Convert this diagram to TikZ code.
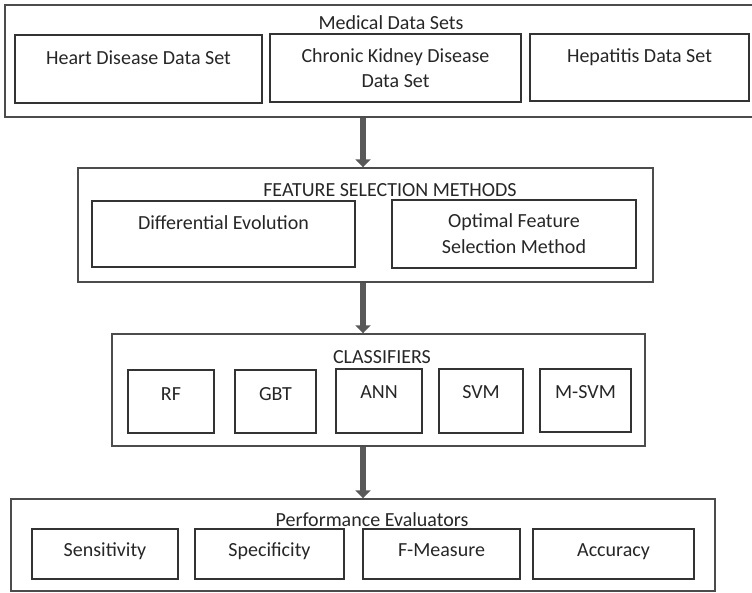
\documentclass[tikz,border=0pt]{standalone}
\usepackage{fontspec}
\setmainfont{Carlito}
\usetikzlibrary{arrows.meta}

\begin{document}
\begin{tikzpicture}[x=1pt, y=-1pt, >=Stealth,
 group box/.style 2 args={draw=black!70, line width=1.4pt, minimum width=#1pt,
   minimum height=#2pt, inner sep=0pt},
 item box/.style 2 args={draw=black!80, line width=1.4pt, minimum width=#1pt,
   minimum height=#2pt, inner sep=0pt, align=center, text=black!85,
   font=\fontsize{20}{25}\selectfont},
 top text/.style 2 args={text height=#1pt, text depth=#2pt},
 group title/.style={text=black!85, inner sep=0pt, font=\fontsize{20}{24}\selectfont},
 big arrow/.style={draw=black!65, line width=6pt, -{Triangle[length=8pt,width=15pt]}}]
    % moldura: mesmo tamanho da figura original
    \useasboundingbox (0,0) rectangle (752,593);

    % bloco 1: bases de dados
    \node[group box={751}{112}] (data) at (380.5,61) {};
    \node[group title] (datatitle) at (391,23) {Medical Data Sets};
    \node[item box={247}{68}, top text={29.5}{38.5}] (heart) at (138.5,69) {Heart Disease Data Set};
    \node[item box={251}{68}] (kidney) at (395.5,68) {Chronic Kidney Disease\\Data Set};
    \node[item box={219}{67}, top text={28.5}{38.5}] (hepatitis) at (639.5,67.5) {Hepatitis Data Set};

    % bloco 2: selecao de atributos
    \node[group box={575}{114}] (selection) at (365.5,225) {};
    \node[group title] (selectiontitle) at (390,190) {FEATURE SELECTION METHODS};
    \node[item box={263}{66}, top text={28.5}{37.5}] (diffevo) at (223.5,234) {Differential Evolution};
    \node[item box={244}{68}, font=\fontsize{20}{26}\selectfont] (optimal) at (514,234) {Optimal Feature\\Selection Method};

    % bloco 3: classificadores
    \node[group box={533}{112}] (classifiers) at (378.5,390) {};
    \node[group title] (classifierstitle) at (382,357) {CLASSIFIERS};
    \node[item box={86}{63}, top text={30}{33}] (rf) at (171,401.5) {RF};
    \node[item box={81}{63}, top text={30}{33}] (gbt) at (275.5,401.5) {GBT};
    \node[item box={86}{64}, top text={30}{34}] (ann) at (379,401) {ANN};
    \node[item box={84}{64}, top text={30}{34}] (svm) at (481,401) {SVM};
    \node[item box={91}{63}, top text={30}{33}] (msvm) at (585.5,400.5) {M-SVM};

    % bloco 4: avaliacao
    \node[group box={704}{92}] (evaluators) at (363,545) {};
    \node[group title] (evaluatorstitle) at (372,520) {Performance Evaluators};
    \node[item box={146}{50}, top text={27.5}{22.5}] (sensitivity) at (105,554) {Sensitivity};
    \node[item box={149}{50}, top text={27.5}{22.5}] (specificity) at (269.5,554) {Specificity};
    \node[item box={157}{50}, top text={27.5}{22.5}] (fmeasure) at (441.5,554) {F-Measure};
    \node[item box={161}{50}, top text={27.5}{22.5}] (accuracy) at (613.5,554) {Accuracy};

    % setas: todas na mesma vertical
    \coordinate (axis) at (363,0);
    \draw[big arrow] (data.south -| axis) -- (selection.north -| axis);
    \draw[big arrow] (selection.south -| axis) -- (classifiers.north -| axis);
    \draw[big arrow] (classifiers.south -| axis) -- (evaluators.north -| axis);
\end{tikzpicture}
\end{document}
